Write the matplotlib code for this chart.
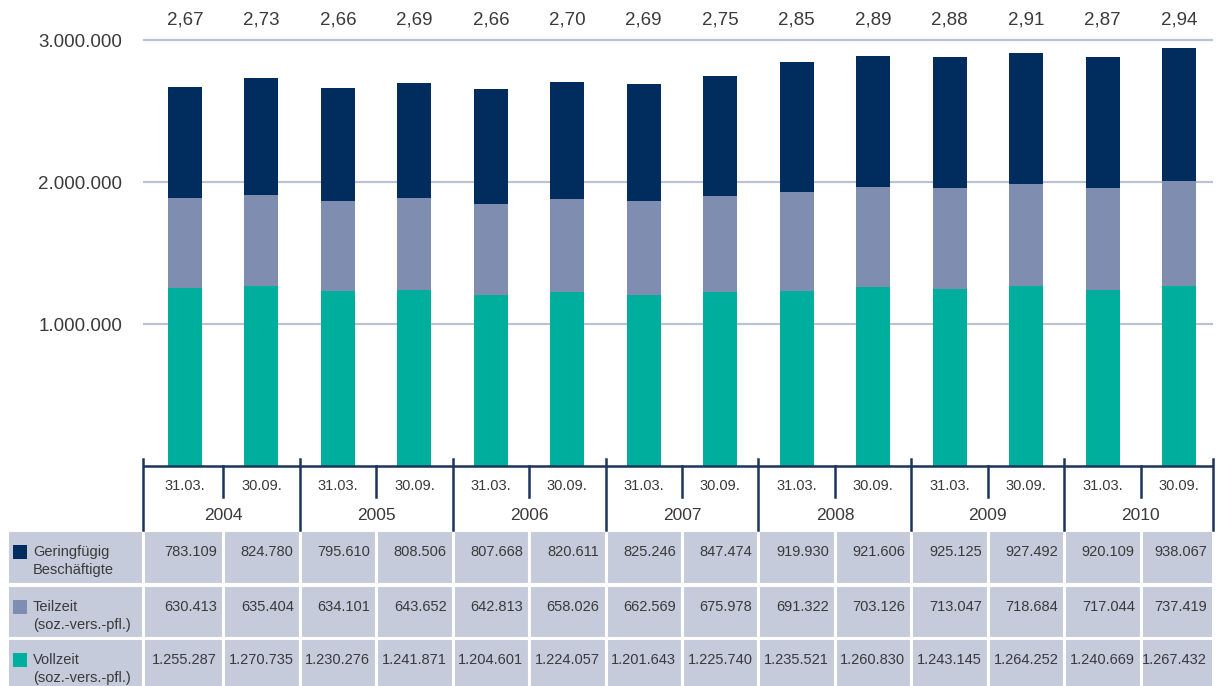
import matplotlib
matplotlib.use("Agg")
import matplotlib.pyplot as plt
from matplotlib.patches import Rectangle
import numpy as np

plt.rcParams['font.family'] = ['Liberation Sans', 'DejaVu Sans']

# ---- data ----
years = ["2004", "2005", "2006", "2007", "2008", "2009", "2010"]
dates = ["31.03.", "30.09."]
geringfuegig = [783109, 824780, 795610, 808506, 807668, 820611, 825246, 847474,
                919930, 921606, 925125, 927492, 920109, 938067]
teilzeit = [630413, 635404, 634101, 643652, 642813, 658026, 662569, 675978,
            691322, 703126, 713047, 718684, 717044, 737419]
vollzeit = [1255287, 1270735, 1230276, 1241871, 1204601, 1224057, 1201643, 1225740,
            1235521, 1260830, 1243145, 1264252, 1240669, 1267432]
total_labels = ["2,67", "2,73", "2,66", "2,69", "2,66", "2,70", "2,69", "2,75",
                "2,85", "2,89", "2,88", "2,91", "2,87", "2,94"]
series_names = ["Geringfügig\nBeschäftigte", "Teilzeit\n(soz.-vers.-pfl.)", "Vollzeit\n(soz.-vers.-pfl.)"]
yticks = [1000000, 2000000, 3000000]
ytick_labels = ["1.000.000", "2.000.000", "3.000.000"]

C_GER = "#002d5e"
C_TEIL = "#7f8eb0"
C_VOLL = "#00ae9e"
C_TAB = "#c6cbdc"
C_GRID = "#bcc2d6"
C_LINE = "#1b355c"
C_TEXT = "#3a3a3a"

W, H = 1220, 686
fig = plt.figure(figsize=(W / 100, H / 100), dpi=100)

ax_left, ax_right = 143, 1213
ax_bottom_px = 466
ax = fig.add_axes([ax_left / W, (H - ax_bottom_px) / H, (ax_right - ax_left) / W, ax_bottom_px / H])

n = len(vollzeit)
x = np.arange(n)
xmin, xmax = -0.549, 13.445
bw = 0.445

v = np.array(vollzeit)
t = np.array(teilzeit)
g = np.array(geringfuegig)

ax.bar(x, v, width=bw, color=C_VOLL, zorder=3)
ax.bar(x, t, width=bw, bottom=v, color=C_TEIL, zorder=3)
ax.bar(x, g, width=bw, bottom=v + t, color=C_GER, zorder=3)

ax.set_xlim(xmin, xmax)
ax.set_ylim(0, 3.282e6)
ax.set_yticks(yticks)
ax.set_yticklabels(ytick_labels, fontsize=13.5, color=C_TEXT)
ax.tick_params(axis='y', length=0, pad=15)
ax.set_xticks([])
for s in ax.spines.values():
    s.set_visible(False)
ax.yaxis.grid(True, color=C_GRID, linewidth=1.6, zorder=0)
ax.set_axisbelow(True)

for xi, lab in zip(x, total_labels):
    ax.text(xi, 0.957, lab, transform=ax.get_xaxis_transform(),
            ha='center', va='center', fontsize=13.5, color=C_TEXT)

# ---- table (x in data units, y in pixels from top) ----
tax = fig.add_axes([ax_left / W, 0, (ax_right - ax_left) / W, (H - ax_bottom_px) / H])
tax.set_xlim(xmin, xmax)
tax.set_ylim(H, ax_bottom_px)
tax.axis('off')

px_per_unit = (ax_right - ax_left) / (xmax - xmin)
def px2x(px):
    return xmin + (px - ax_left) / px_per_unit

# baseline
tax.plot([xmin, xmax], [466, 466], color=C_LINE, lw=1.8, clip_on=False, solid_capstyle='butt')
# year dividers
bounds = [xmin] + [i * 2 + 1.5 for i in range(len(years) - 1)] + [xmax]
for b in bounds:
    tax.plot([b, b], [459, 530], color=C_LINE, lw=1.8, clip_on=False)
# sub dividers
for i in range(len(years)):
    tax.plot([2 * i + 0.5, 2 * i + 0.5], [466, 497], color=C_LINE, lw=1.8, clip_on=False)
# date labels & year labels
for i in range(n):
    tax.text(i, 486, dates[i % 2], ha='center', va='center', fontsize=10.5, color=C_TEXT)
for i, yr in enumerate(years):
    tax.text(2 * i + 0.5, 515, yr, ha='center', va='center', fontsize=12.5, color=C_TEXT)

rows = [(530, 584, geringfuegig, C_GER), (585, 638, teilzeit, C_TEIL), (638, 690, vollzeit, C_VOLL)]
col_edges = [xmin] + [i + 0.5 for i in range(n - 1)] + [xmax]
lab_left = px2x(7)
for (y0, y1, vals, col), name in zip(rows, series_names):
    # label cell
    tax.add_patch(Rectangle((lab_left, y0), xmin - lab_left, y1 - y0, facecolor=C_TAB,
                            edgecolor='white', lw=2.2, clip_on=False))
    for i in range(n):
        tax.add_patch(Rectangle((col_edges[i], y0), col_edges[i + 1] - col_edges[i], y1 - y0,
                                facecolor=C_TAB, edgecolor='white', lw=2.2, clip_on=False))
        tax.text(col_edges[i + 1] - 6 / px_per_unit, y0 + 22, f"{vals[i]:,}".replace(",", "."),
                 ha='right', va='center', fontsize=10.5, color=C_TEXT, clip_on=False)
    # legend swatch
    tax.add_patch(Rectangle((px2x(13), y0 + 15), 14 / px_per_unit, 14, facecolor=col,
                            edgecolor='none', clip_on=False))
    l1, l2 = name.split("\n")
    tax.text(px2x(33), y0 + 22, l1, ha='left', va='center', fontsize=10.5, color=C_TEXT, clip_on=False)
    tax.text(px2x(33), y0 + 40, l2, ha='left', va='center', fontsize=10.5, color=C_TEXT, clip_on=False)

fig.savefig("out.png", dpi=100)
